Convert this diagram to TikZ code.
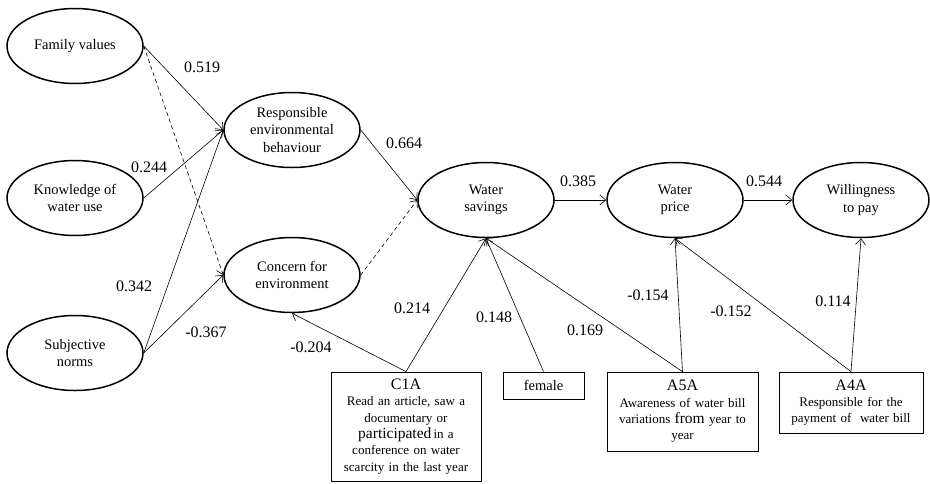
\documentclass[tikz,border=0pt]{standalone}
\usepackage{fontspec}
\setmainfont{Liberation Serif}
\usetikzlibrary{shapes,arrows.meta,positioning}

\begin{document}
\begin{tikzpicture}[x=1pt,y=-1pt,
    construct/.style={ellipse,draw,line width=1.5pt,minimum width=136pt,minimum height=75pt,inner sep=0pt,align=center,font=\fontsize{14.5}{17.5}\selectfont},
    indicator/.style={rectangle,draw,line width=0.8pt,inner sep=4pt,align=center,font=\fontsize{13}{16.3}\selectfont},
    effect/.style={-{Straight Barb[length=6pt,width=10pt]},line width=0.6pt},
    weakeffect/.style={effect,dash pattern=on 4pt off 3pt},
    coef/.style={font=\fontsize{16}{18}\selectfont}]
    \useasboundingbox (0,0) rectangle (930,483);

    \node[construct] (fam) at (75,46) {Family values};
    \node[construct] (know) at (75,198) {Knowledge of\\water use};
    \node[construct] (subj) at (75,353) {Subjective\\norms};
    \node[construct] (reb) at (292,130) {Responsible\\environmental\\behaviour};
    \node[construct] (con) at (292,275) {Concern for\\environment};
    \node[construct] (ws) at (486,200) {Water\\savings};
    \node[construct] (wp) at (675,200) {Water\\price};
    \node[construct] (wtp) at (861,200) {Willingness\\to pay};

    \node[indicator,text width=142pt,minimum height=109pt] (c1a) at (406,426.5) {{\fontsize{16}{18}\selectfont C1A}\\Read an article, saw a\\documentary or\\{\fontsize{15.5}{16}\selectfont participated}\,in a\\conference on water\\scarcity in the last year};
    \node[indicator,minimum width=81pt,minimum height=27pt,font=\fontsize{14.5}{16}\selectfont] (female) at (543.5,385.5) {female};
    \node[indicator,text width=143pt,minimum height=79pt] (a5a) at (682.5,411.5) {{\fontsize{16}{18}\selectfont A5A}\\Awareness of water bill\\variations {\fontsize{15.5}{16}\selectfont from} year to\\year};
    \node[indicator,text width=136pt,minimum height=61pt] (a4a) at (851,402.5) {{\fontsize{16}{18}\selectfont A4A}\\Responsible for the\\payment of\ \ water bill};

    \draw[effect] (fam.east) -- (reb.west);
    \draw[weakeffect] (fam.east) -- (con.west);
    \draw[effect] (know.east) -- (reb.west);
    \draw[effect] (subj.east) -- (reb.west);
    \draw[effect] (subj.east) -- (con.west);
    \draw[effect] (reb.east) -- (ws.west);
    \draw[weakeffect] (con.east) -- (ws.west);
    \draw[effect] (ws.east) -- (wp.west);
    \draw[effect] (wp.east) -- (wtp.west);
    \draw[effect] (c1a.north) -- (con.south);
    \draw[effect] (c1a.north) -- (ws.south);
    \draw[effect] (female.north) -- (ws.south);
    \draw[effect] (a5a.north) -- (ws.south);
    \draw[effect] (a5a.north) -- (wp.south);
    \draw[effect] (a4a.north) -- (wp.south);
    \draw[effect] (a4a.north) -- (wtp.south);

    \foreach \px/\py/\val [count=\i] in {202/67/0.519, 149/167/0.244, 134/286/0.342, 206/332/-0.367,
        404/143/0.664, 311/347/-0.204, 412/308/0.214, 494/317/0.148, 585/330/0.169,
        648/295/-0.154, 731/311/-0.152, 833/301/0.114, 578/181/0.385, 764/181/0.544}
    {
        \node[coef] (coef\i) at (\px,\py) {\val};
    }
\end{tikzpicture}
\end{document}
